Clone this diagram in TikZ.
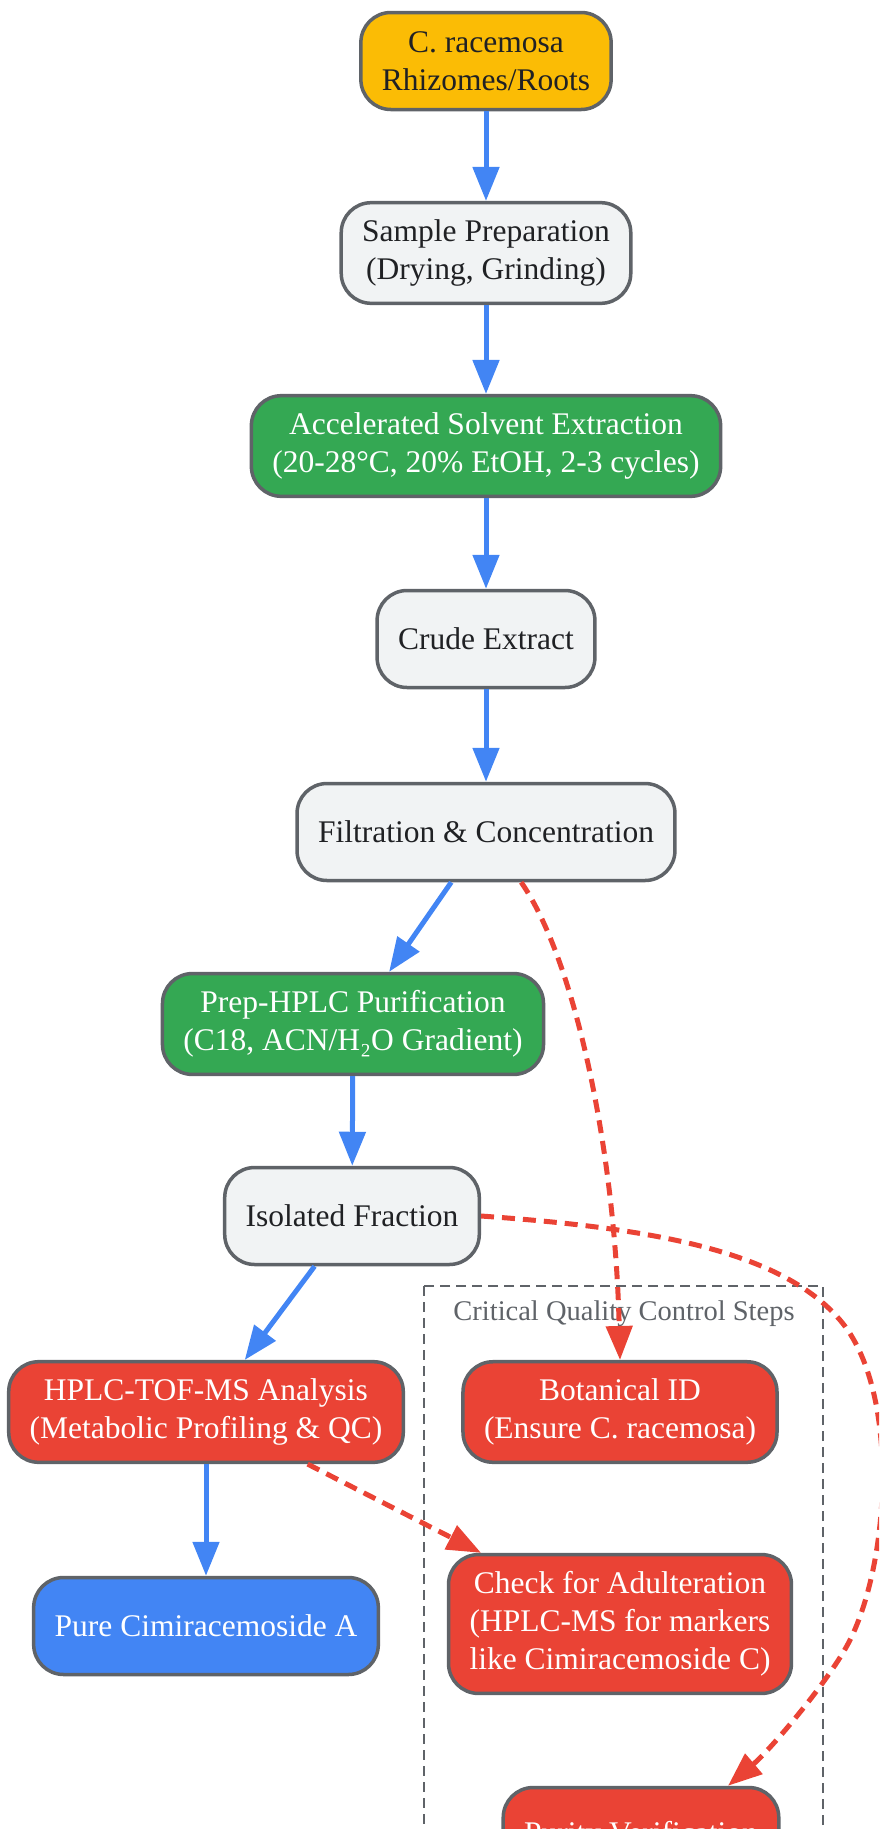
\documentclass[tikz,border=0pt]{standalone}
\usepackage{fontspec}
\setmainfont{Liberation Serif}
\usetikzlibrary{arrows.meta}

\definecolor{gyellow}{HTML}{FBBC05}
\definecolor{ggreen}{HTML}{34A853}
\definecolor{gred}{HTML}{EA4335}
\definecolor{gblue}{HTML}{4285F4}
\definecolor{glight}{HTML}{F1F3F4}
\definecolor{gborder}{HTML}{5F6368}
\definecolor{gtext}{HTML}{202124}

\begin{document}
\begin{tikzpicture}[x=1pt, y=-1pt,
    stage/.style={draw=gborder, line width=3.5pt, rounded corners=30pt, align=center,
        minimum height=97pt, inner xsep=21pt, inner ysep=17pt,
        font=\fontsize{31.5}{38}\selectfont},
    plain/.style={stage, fill=glight, text=gtext},
    source/.style={stage, fill=gyellow, text=gtext},
    method/.style={stage, fill=ggreen, text=white},
    check/.style={stage, fill=gred, text=white},
    result/.style={stage, fill=gblue, text=white},
    flow/.style={draw=gblue, line width=5pt, -{Triangle[length=34pt,width=26pt]}},
    qc/.style={draw=gred, line width=5pt, dash pattern=on 13pt off 8pt,
        -{Triangle[length=34pt,width=26pt]}},
]

    % --- 1. Page frame ---
    \useasboundingbox (0,0) rectangle (879,1829);
    \clip (0,0) rectangle (879,1829);

    % --- 2. Quality control group (dashed frame) ---
    \draw[gborder, line width=2.5pt, dash pattern=on 10pt off 6pt] (424,1286) rectangle (823,1900);
    \node[text=gborder, font=\fontsize{28.5}{34}\selectfont] (qclabel) at (624,1314) {Critical Quality Control Steps};

    % --- 3. Main workflow (top to bottom) ---
    \node[source] (src)   at (486,61)   {C. racemosa\\Rhizomes/Roots};
    \node[plain]  (prep)  at (486,253)  {Sample Preparation\\(Drying, Grinding)};
    \node[method] (ase)   at (486,446)  {Accelerated Solvent Extraction\\(20-28°C, 20\% EtOH, 2-3 cycles)};
    \node[plain]  (crude) at (486,639)  {Crude Extract};
    \node[plain]  (filt)  at (486,832)  {Filtration \& Concentration};
    \node[method] (hplc)  at (353,1024) {Prep-HPLC Purification\\(C18, ACN/H₂O Gradient)};
    \node[plain]  (frac)  at (352,1216) {Isolated Fraction};
    \node[check]  (tof)   at (206,1412) {HPLC-TOF-MS Analysis\\(Metabolic Profiling \& QC)};
    \node[result] (pure)  at (206,1626) {Pure Cimiracemoside A};

    % --- 4. QC steps ---
    \node[check] (botid)  at (620,1412) {Botanical ID\\(Ensure C. racemosa)};
    \node[check] (adult)  at (620,1624) {Check for Adulteration\\(HPLC-MS for markers\\like Cimiracemoside C)};
    \node[check] (purity) at (641,1836) {Purity Verification};

    % --- 5. Process arrows ---
    \draw[flow] (src) -- (prep);
    \draw[flow] (prep) -- (ase);
    \draw[flow] (ase) -- (crude);
    \draw[flow] (crude) -- (filt);
    \draw[flow] (filt) -- (hplc);
    \draw[flow] (hplc) -- (frac);
    \draw[flow] (frac) -- (tof);
    \draw[flow] (tof) -- (pure);

    % --- 6. QC links (dashed) ---
    \draw[qc] (filt.-55) .. controls (575,960) and (615,1150) .. (botid.north);
    \draw[qc] (tof) -- (adult);
    \draw[qc] (frac.east) .. controls (650,1228) and (780,1250) .. (840,1320)
        .. controls (900,1390) and (890,1560) .. (850,1640)
        .. controls (830,1680) and (770,1750) .. (purity.30);

\end{tikzpicture}
\end{document}
